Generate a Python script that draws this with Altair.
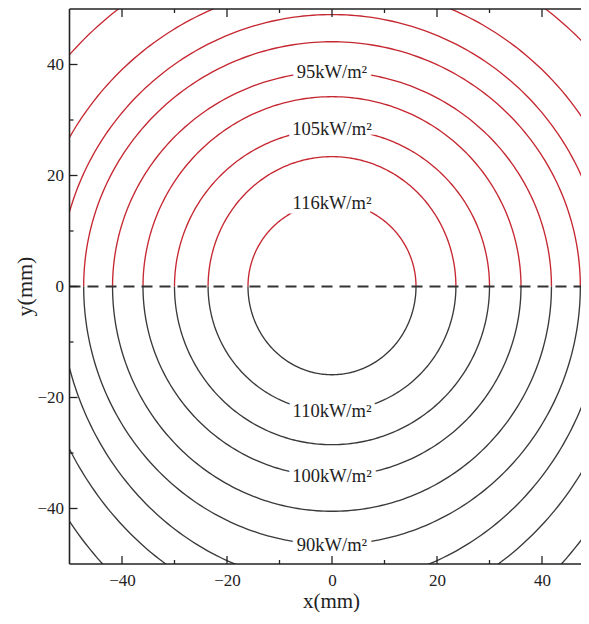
import altair as alt
import pandas as pd

# Contour semi-axes in mm (a: along x, b: along y)
upper_a = [16.0, 23.6, 30.0, 36.0, 41.8, 47.3, 52.0, 57.5, 66.7]
upper_b = [15.1, 23.4, 28.3, 34.2, 38.7, 44.1, 49.0, 54.4, 63.1]
lower_a = [16.0, 23.6, 30.0, 36.0, 41.8, 47.3, 52.0, 57.3, 63.2]
lower_b = [15.9, 22.5, 28.5, 34.2, 40.5, 46.5, 53.5, 60.0, 69.2]

upper_labels = ["116kW/m²", "105kW/m²", "95kW/m²"]
upper_label_idx = [0, 2, 4]
lower_labels = ["110kW/m²", "100kW/m²", "90kW/m²"]
lower_label_idx = [1, 3, 5]

major_ticks = [-40, -20, 0, 20, 40]
minor_ticks = [-30, -10, 10, 30]

RED = "#c62832"
DARK = "#3a3a3a"
FONT = "Liberation Serif"

PX_X = 5.25   # pixels per mm along x
PX_Y = 5.55   # pixels per mm along y
W, H = 511.5, 555
XMIN = -50
XMAX = XMIN + W / PX_X
YMIN, YMAX = -50, 50

rows = []
for i, (a, b) in enumerate(zip(upper_a, upper_b)):
    rows.append({"key": f"u{i}", "half": "upper", "a": a, "b": b, "sign": 1})
for i, (a, b) in enumerate(zip(lower_a, lower_b)):
    rows.append({"key": f"l{i}", "half": "lower", "a": a, "b": b, "sign": -1})
contours = pd.DataFrame(rows)

lab_rows = []
for t, i in zip(upper_labels, upper_label_idx):
    lab_rows.append({"x": 0.0, "y": upper_b[i], "text": t})
for t, i in zip(lower_labels, lower_label_idx):
    lab_rows.append({"x": 0.0, "y": -lower_b[i], "text": t})
labels = pd.DataFrame(lab_rows)

tick_rows = [{"v": v, "len": 8} for v in major_ticks] + [{"v": v, "len": 4} for v in minor_ticks]
ticks = pd.DataFrame(tick_rows)

xscale = alt.Scale(domain=[XMIN, XMAX], nice=False, zero=False)
yscale = alt.Scale(domain=[YMIN, YMAX], nice=False, zero=False)

xaxis = alt.Axis(values=major_ticks, title="x(mm)", labelPadding=8,
                 titleX=261.5, titleY=43, titleBaseline="alphabetic", titleFontSize=21)
yaxis = alt.Axis(values=major_ticks, title="y(mm)", labelPadding=6,
                 titleX=-45, titleY=277, titleAngle=-90, titleBaseline="middle", titleFontSize=22)


def X(field):
    return alt.X(field, scale=xscale, axis=xaxis)


def Y(field):
    return alt.Y(field, scale=yscale, axis=yaxis)


lines = alt.Chart(contours).transform_calculate(
    t="sequence(0, 181, 1)"
).transform_flatten(["t"]).transform_calculate(
    x="datum.a * cos(datum.t * PI / 180)",
    y="datum.sign * datum.b * sin(datum.t * PI / 180)",
).mark_line(clip=True, strokeWidth=1.35).encode(
    x=X("x:Q"),
    y=Y("y:Q"),
    detail="key:N",
    order="t:Q",
    color=alt.Color("half:N", scale=alt.Scale(domain=["upper", "lower"], range=[RED, DARK]), legend=None),
)

halo = alt.Chart(labels).mark_text(
    font=FONT, fontSize=18.5, stroke="white", strokeWidth=9, fill="white", baseline="middle", align="center"
).encode(x=X("x:Q"), y=Y("y:Q"), text="text:N")

text = alt.Chart(labels).mark_text(
    font=FONT, fontSize=18.5, fill="#222222", baseline="middle", align="center"
).encode(x=X("x:Q"), y=Y("y:Q"), text="text:N")

dash = alt.Chart(pd.DataFrame({"y": [0.0], "x0": [-50.0], "x1": [50.0]})).mark_rule(
    strokeDash=[11, 7], strokeWidth=1.8, color="#333333", clip=True
).encode(y=Y("y:Q"), x=X("x0:Q"), x2="x1:Q")

tick_color = "#222222"
bottom_ticks = alt.Chart(ticks).transform_calculate(
    y0=f"{YMIN}", y1=f"{YMIN} + datum.len / {PX_Y}"
).mark_rule(color=tick_color, strokeWidth=1.3).encode(x=X("v:Q"), y=Y("y0:Q"), y2="y1:Q")
top_ticks = alt.Chart(ticks).transform_calculate(
    y0=f"{YMAX}", y1=f"{YMAX} - datum.len / {PX_Y}"
).mark_rule(color=tick_color, strokeWidth=1.3).encode(x=X("v:Q"), y=Y("y0:Q"), y2="y1:Q")
left_ticks = alt.Chart(ticks).transform_calculate(
    x0="-50", x1=f"-50 + datum.len / {PX_X}"
).mark_rule(color=tick_color, strokeWidth=1.3).encode(y=Y("v:Q"), x=X("x0:Q"), x2="x1:Q")

frame_df = pd.DataFrame({
    "x0": [-50, -50, -50], "x1": [-50, 50, 50],
    "y0": [-50, 50, -50], "y1": [50, 50, -50],
})
frame = alt.Chart(frame_df).mark_rule(color="#222222", strokeWidth=1.6).encode(
    x=X("x0:Q"), x2="x1:Q", y=Y("y0:Q"), y2="y1:Q",
)

chart = alt.layer(
    lines, halo, text, dash, bottom_ticks, top_ticks, left_ticks, frame
).properties(
    width=W, height=H,
    autosize=alt.AutoSizeParams(type="none"),
    padding={"left": 61.5, "top": 1, "right": 0, "bottom": 48},
).configure_view(stroke=None).configure_axis(
    labelFont=FONT, labelFontSize=17, labelColor="#222222",
    titleFont=FONT, titleFontWeight="normal", titleColor="#222222",
    domain=False, ticks=False, grid=False,
)

chart.save("out.html", embed_options={"renderer": "svg", "actions": False})
